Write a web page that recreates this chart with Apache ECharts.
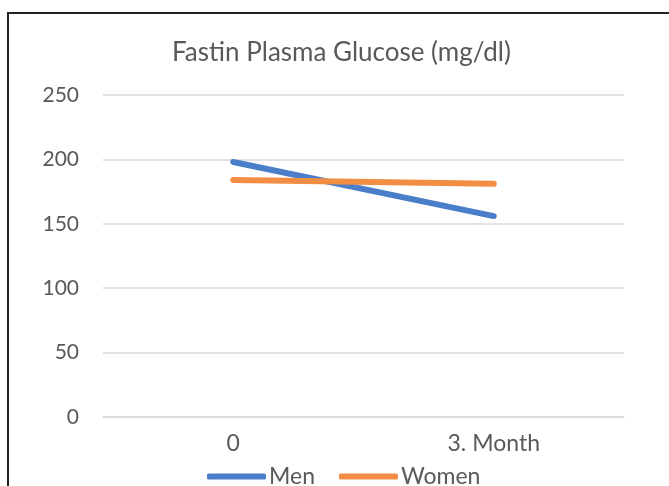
<!DOCTYPE html>
<html><head><meta charset="utf-8">
<script src="https://cdn.jsdelivr.net/npm/echarts@6/dist/echarts.min.js"></script>
<style>html,body{margin:0;padding:0;background:#fff}#c{width:669px;height:486px}</style>
</head><body><div id="c"></div>
<script>
const categories = ['0', '3. Month'];
const men = [198, 156];
const women = [184, 181];
const yTicks = [0, 250, 50];

const chart = echarts.init(document.getElementById('c'));
const font = 'Lato, "Open Sans", sans-serif';
chart.setOption({
  animation: false,
  graphic: [{type: 'rect', shape: {x: 8, y: 13, width: 700, height: 520}, style: {fill: 'none', stroke: '#222', lineWidth: 2}, z: 100}],
  title: {text: 'Fastin Plasma Glucose (mg/dl)', left: 167, top: 35,
    textStyle: {fontFamily: font, fontSize: 26, fontWeight: 'normal', color: '#595959'}},
  legend: {bottom: -7, left: 202, itemWidth: 59, itemHeight: 6, itemGap: 24, icon: 'roundRect',
    textStyle: {fontFamily: font, fontSize: 23, color: '#595959', padding: [0,0,0,-2]}},
  grid: {left: 103, right: 45, top: 95, bottom: 69},
  xAxis: {type: 'category', data: categories, boundaryGap: true,
    axisLine: {show: true, lineStyle: {color: '#d9d9d9', width: 1.5}}, axisTick: {show: false},
    axisLabel: {fontFamily: font, fontSize: 23, color: '#595959', margin: 15}},
  yAxis: {type: 'value', min: yTicks[0], max: yTicks[1], interval: yTicks[2],
    axisLine: {show: false}, axisTick: {show: false},
    splitLine: {lineStyle: {color: '#d9d9d9', width: 1.5}},
    axisLabel: {fontFamily: font, fontSize: 21, color: '#595959', margin: 24}},
  series: [
    {name: 'Men', type: 'line', data: men, symbol: 'none', lineStyle: {width: 6, color: '#4A7EC8', cap: 'round'}, itemStyle: {color: '#4A7EC8'}},
    {name: 'Women', type: 'line', data: women, symbol: 'none', lineStyle: {width: 6, color: '#F28E44', cap: 'round'}, itemStyle: {color: '#F28E44'}}
  ]
});
</script></body></html>
